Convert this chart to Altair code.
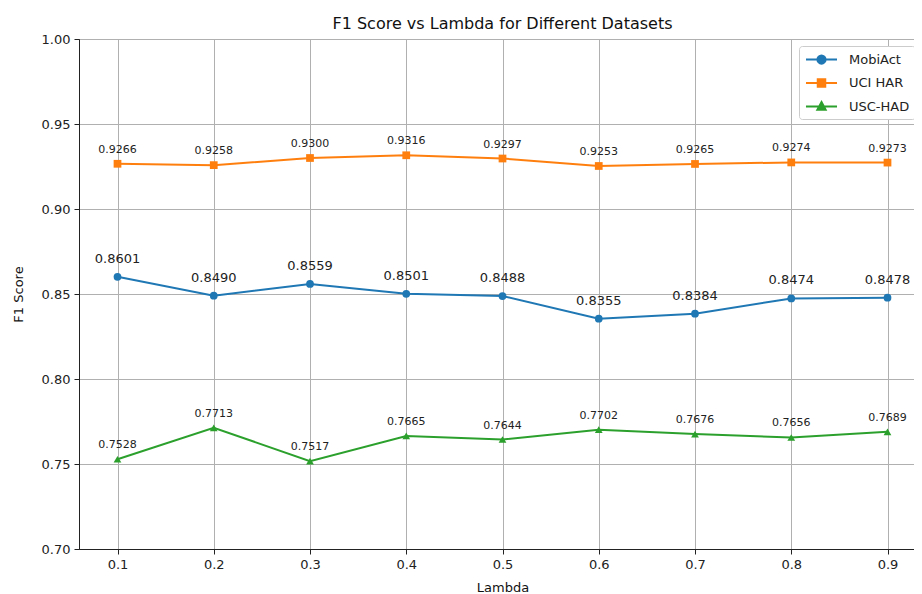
import altair as alt
import pandas as pd

lambdas = [0.1, 0.2, 0.3, 0.4, 0.5, 0.6, 0.7, 0.8, 0.9]
datasets = ["MobiAct", "UCI HAR", "USC-HAD"]
mobiact = [0.8601, 0.8490, 0.8559, 0.8501, 0.8488, 0.8355, 0.8384, 0.8474, 0.8478]
uci_har = [0.9266, 0.9258, 0.9300, 0.9316, 0.9297, 0.9253, 0.9265, 0.9274, 0.9273]
usc_had = [0.7528, 0.7713, 0.7517, 0.7665, 0.7644, 0.7702, 0.7676, 0.7656, 0.7689]
colors = ["#1f77b4", "#ff7f0e", "#2ca02c"]

rows = []
for name, vals in zip(datasets, [mobiact, uci_har, usc_had]):
    for l, v in zip(lambdas, vals):
        rows.append({"Lambda": l, "F1": v, "Dataset": name, "label": f"{v:.4f}"})
df = pd.DataFrame(rows)

font = "DejaVu Sans"
x = alt.X("Lambda:Q", scale=alt.Scale(domain=[0.06, 0.94], nice=False, zero=False),
          axis=alt.Axis(title="Lambda", values=lambdas, format=".1f"))
y = alt.Y("F1:Q", scale=alt.Scale(domain=[0.70, 1.00], nice=False, zero=False),
          axis=alt.Axis(title="F1 Score", values=[0.70, 0.75, 0.80, 0.85, 0.90, 0.95, 1.00], format=".2f"))


def cscale():
    return alt.Scale(domain=datasets, range=colors)


base = alt.Chart(df)

lines = base.mark_line(strokeWidth=2).encode(
    x=x, y=y, color=alt.Color("Dataset:N", scale=cscale(), legend=None),
    detail="Dataset:N")

points = base.mark_point(filled=True, size=60, opacity=1).encode(
    x=x, y=y,
    color=alt.Color("Dataset:N", scale=cscale(), legend=None),
    shape=alt.Shape("Dataset:N", scale=alt.Scale(domain=datasets, range=["circle", "square", "triangle-up"]), legend=None))

big_labels = base.transform_filter(alt.datum.Dataset == "MobiAct").mark_text(
    fontSize=13, font=font, dy=-14, baseline="alphabetic", color="#222").encode(
    x=x, y=y, text="label:N")
small_labels = base.transform_filter(alt.datum.Dataset != "MobiAct").mark_text(
    fontSize=11, font=font, dy=-11, baseline="alphabetic", color="#222").encode(
    x=x, y=y, text="label:N")

legend_shapes = [
    "M-2.07,0L2.07,0M0.55,0A0.55,0.55 0 1,1 -0.55,0A0.55,0.55 0 1,1 0.55,0Z",
    "M-2.07,0L2.07,0M-0.5,-0.5L0.5,-0.5L0.5,0.5L-0.5,0.5Z",
    "M-2.07,0L2.07,0M0,-0.6L0.55,0.42L-0.55,0.42Z",
]
leg = alt.Legend(title=None, orient="none", legendX=720, legendY=7, labelFont=font, labelFontSize=13,
                 labelColor="#222", fillColor="white", strokeColor="#cccccc", cornerRadius=3,
                 padding=5, rowPadding=6.5, labelOffset=19, symbolOffset=9,
                 symbolStrokeWidth=2, symbolSize=225)
legend_layer = base.transform_filter("false").mark_point(filled=True, size=225, strokeWidth=2, opacity=1).encode(
    x=x, y=y,
    color=alt.Color("Dataset:N", scale=cscale(), legend=leg),
    stroke=alt.Stroke("Dataset:N", scale=cscale(), legend=leg),
    shape=alt.Shape("Dataset:N", scale=alt.Scale(domain=datasets, range=legend_shapes), legend=leg))

chart = alt.layer(lines, points, big_labels, small_labels, legend_layer).resolve_scale(
    shape="independent", color="independent", stroke="independent").properties(
    width=847, height=510,
    title=alt.Title("F1 Score vs Lambda for Different Datasets", font=font, fontSize=16,
                    fontWeight="normal", color="#111", offset=1),
    autosize=alt.AutoSizeParams(type="none"),
    padding={"left": 71, "top": 31, "right": -12, "bottom": 45},
).configure_view(stroke="#222", strokeWidth=1).configure_axis(
    labelFont=font, titleFont=font, labelFontSize=13, titleFontSize=13, titleFontWeight="normal",
    labelColor="#222", titleColor="#111", grid=True, gridColor="#b0b0b0", gridWidth=1,
    tickColor="#222", tickSize=5, domainColor="#222", labelPadding=4,
).configure_axisX(titlePadding=10).configure_axisY(titlePadding=16)

chart.save("out.html", embed_options={"renderer": "svg", "actions": False})
